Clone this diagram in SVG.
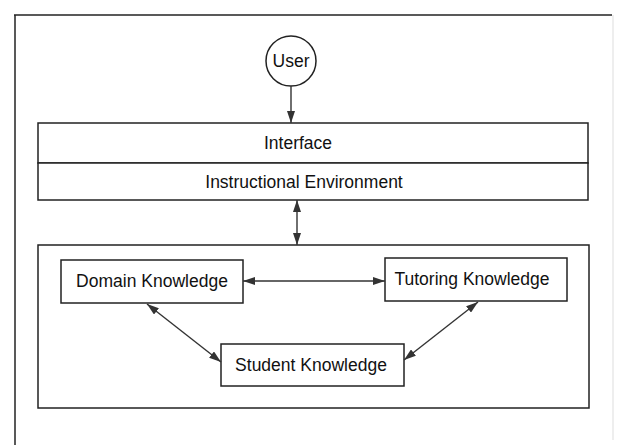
<svg xmlns="http://www.w3.org/2000/svg" width="621" height="445" viewBox="0 0 621 445">
<defs>
<marker id="ah" viewBox="0 0 12 8" refX="12" refY="4" markerWidth="12" markerHeight="8" markerUnits="userSpaceOnUse" orient="auto-start-reverse">
<path d="M0,0 L12,4 L0,8 Z" fill="#333"/>
</marker>
<style>
.box{fill:#fff;stroke:#222;stroke-width:1.5}
.frame{fill:none;stroke:#222;stroke-width:1.5}
.lbl{font-family:"Liberation Sans",Arial,sans-serif;font-size:17.5px;fill:#111;text-anchor:middle}
.con{stroke:#333;stroke-width:1.4;fill:none}
</style>
</defs>
<rect width="621" height="445" fill="#fff"/>
<g id="outer-frame">
<line class="frame" x1="14" y1="15" x2="612" y2="15"/>
<line class="frame" x1="15" y1="15" x2="15" y2="445"/>
<line x1="613" y1="15" x2="613" y2="440" stroke="#ddd" stroke-width="1"/>
</g>
<g id="user">
<circle class="box" cx="291" cy="61" r="25"/>
<text class="lbl" x="291" y="67">User</text>
</g>
<g id="interface">
<rect class="box" x="38" y="123" width="550" height="40"/>
<text class="lbl" x="298" y="149">Interface</text>
</g>
<g id="instructional-environment">
<rect class="box" x="38" y="163" width="550" height="37"/>
<text class="lbl" x="304" y="188">Instructional Environment</text>
</g>
<g id="knowledge-container">
<rect class="box" x="38" y="245" width="551" height="163"/>
</g>
<g id="domain-knowledge">
<rect class="box" x="61" y="260" width="182" height="43"/>
<text class="lbl" x="152" y="287">Domain Knowledge</text>
</g>
<g id="tutoring-knowledge">
<rect class="box" x="385" y="258" width="182" height="43"/>
<text class="lbl" x="472" y="285">Tutoring Knowledge</text>
</g>
<g id="student-knowledge">
<rect class="box" x="221" y="344" width="183" height="42"/>
<text class="lbl" x="311" y="371">Student Knowledge</text>
</g>
<g id="connectors">
<line class="con" x1="291" y1="86" x2="291" y2="123" marker-end="url(#ah)"/>
<line class="con" x1="297" y1="200" x2="297" y2="245" marker-start="url(#ah)" marker-end="url(#ah)"/>
<line class="con" x1="243" y1="281" x2="385" y2="281" marker-start="url(#ah)" marker-end="url(#ah)"/>
<line class="con" x1="147" y1="304" x2="221" y2="362" marker-start="url(#ah)" marker-end="url(#ah)"/>
<line class="con" x1="478" y1="302" x2="404" y2="360" marker-start="url(#ah)" marker-end="url(#ah)"/>
</g>
</svg>
